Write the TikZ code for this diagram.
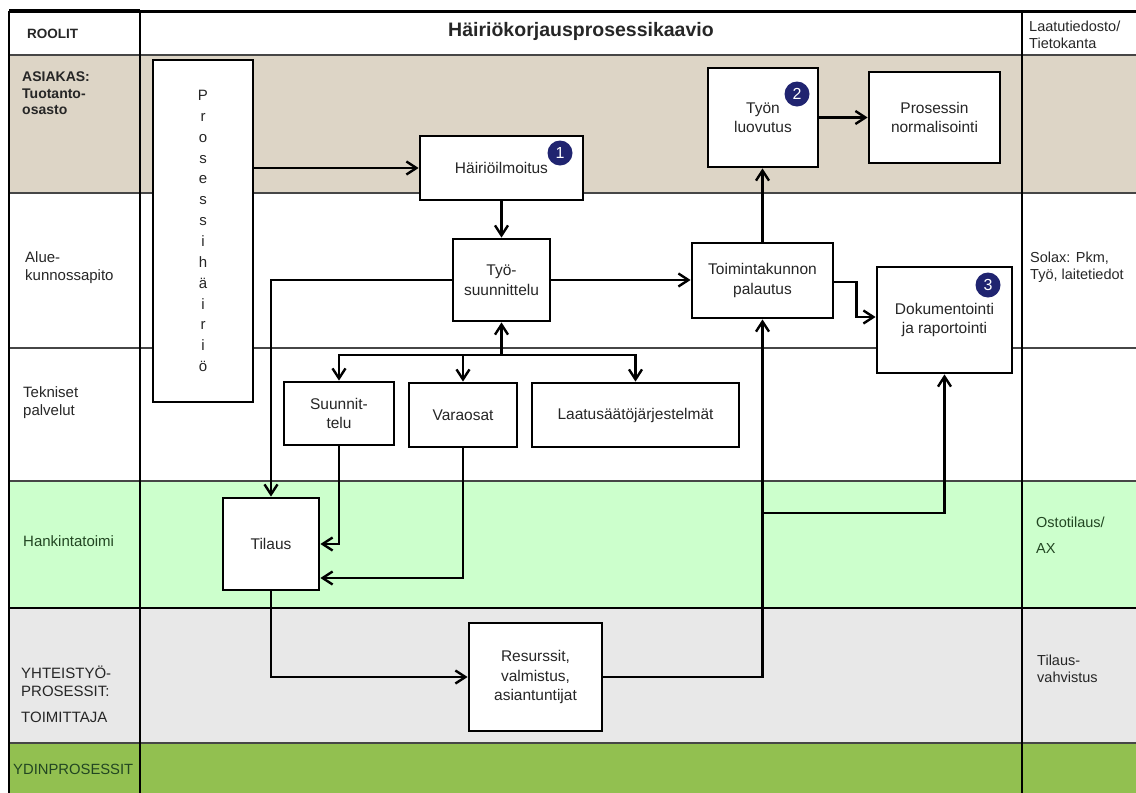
\documentclass[tikz,border=0pt]{standalone}
\usepackage{fontspec}
\setmainfont{Liberation Sans}
\usetikzlibrary{arrows.meta}
\definecolor{lanebeige}{RGB}{221,213,198}
\definecolor{lanegreen}{RGB}{204,255,204}
\definecolor{lanegray}{RGB}{232,232,232}
\definecolor{coregreen}{RGB}{146,192,80}
\definecolor{ink}{RGB}{38,38,38}
\definecolor{greenink}{RGB}{34,70,34}
\definecolor{rulegray}{RGB}{70,70,70}
\definecolor{badgeblue}{RGB}{32,36,112}
\newcommand\fsz[2]{\fontsize{#1}{#2}\selectfont}

\begin{document}
\begin{tikzpicture}[x=1pt,y=-1pt,
  procbox/.style={draw=black, line width=2.8pt, fill=white, inner sep=2pt,
    align=center, text=ink, font=\fsz{15.5}{19.5}},
  badge/.style={circle, fill=badgeblue, inner sep=0pt, minimum size=25pt,
    text=white, font=\fsz{16}{16}},
  arr/.style={line width=2.4pt, -{Straight Barb[length=10pt,width=13pt]}},
  lanelabel/.style={anchor=west, inner sep=0pt, align=left, text=ink,
    font=\fsz{15}{18}},
  sidelabel/.style={anchor=west, inner sep=0pt, align=left, text=ink,
    font=\fsz{14.5}{17}},
  laneline/.style={draw=rulegray, line width=1.5pt},
  frameline/.style={draw=black, line width=2.2pt}
]
\useasboundingbox (0,0) rectangle (1136,793);

% swim-lane backgrounds
\fill[lanebeige] (9,55) rectangle (1136,193);
\fill[lanegreen] (9,481) rectangle (1136,608);
\fill[lanegray]  (9,608) rectangle (1136,743);
\fill[coregreen] (9,743) rectangle (1136,793);

% lane separators
\draw[laneline] (9,55) -- (1136,55);
\draw[laneline] (9,193) -- (1136,193);
\draw[laneline] (9,348) -- (1136,348);
\draw[laneline] (9,481) -- (1136,481);
\draw[frameline] (9,608) -- (1136,608);
\draw[laneline, line width=2pt] (9,743) -- (1136,743);

% frame and columns
\draw[black, line width=4pt] (9,11) -- (140,11);
\draw[black, line width=3pt] (140,11) -- (1136,11);
\draw[frameline] (9,11) -- (9,793);
\draw[frameline] (140,11) -- (140,793);
\draw[frameline] (1022,11) -- (1022,793);

% header
\node[anchor=west, inner sep=0pt, text=ink, font=\fsz{13.5}{16}\bfseries] (roles) at (27,34) {ROOLIT};
\node[inner sep=0pt, text=ink, font=\fsz{19.5}{22}\bfseries] (title) at (581,31) {Häiriökorjausprosessikaavio};
\node[sidelabel] (dbhead) at (1029,34.5) {Laatutiedosto/\\Tietokanta};

% lane names
\node[lanelabel, font=\fsz{14}{16.5}\bfseries] (customer) at (22,93.5) {ASIAKAS:\\Tuotanto-\\osasto};
\node[lanelabel] (area) at (25,268) {Alue-\\kunnossapito};
\node[lanelabel] (tech) at (23,403) {Tekniset\\palvelut};
\node[lanelabel, text=greenink] (purchase) at (23,541) {Hankintatoimi};
\node[lanelabel] (coop) at (21,681.5) {YHTEISTYÖ-\\PROSESSIT:};
\node[lanelabel] (supplier) at (21,717) {TOIMITTAJA};
\node[lanelabel, text=greenink, font=\fsz{14.8}{18}] (core) at (13,769) {YDINPROSESSIT};

% data sources
\node[sidelabel] (solax) at (1030,267) {Solax: Pkm,\\Työ, laitetiedot};
\node[sidelabel, text=greenink, font=\fsz{14.5}{26}] (ax) at (1036,535) {Ostotilaus/\\AX};
\node[sidelabel] (confirm) at (1037,668.5) {Tilaus-\\vahvistus};

% process steps
\node[procbox, minimum width=100pt, minimum height=342pt, font=\fsz{15}{20.85}] (proc) at (203,231)
  {P\\r\\o\\s\\e\\s\\s\\i\\h\\ä\\i\\r\\i\\ö};
\node[procbox, minimum width=163pt, minimum height=64pt] (hair) at (501.5,168) {Häiriöilmoitus};
\node[procbox, minimum width=97pt, minimum height=82pt] (tyo) at (501.5,280) {Työ-\\suunnittelu};
\node[procbox, minimum width=141pt, minimum height=75pt] (toim) at (762.5,280.5) {Toimintakunnon\\palautus};
\node[procbox, minimum width=110pt, minimum height=99pt] (luov) at (763,117.5) {Työn\\luovutus};
\node[procbox, minimum width=131pt, minimum height=91pt] (norm) at (934.5,117.5) {Prosessin\\normalisointi};
\node[procbox, minimum width=135pt, minimum height=106pt] (dok) at (944.5,320) {Dokumentointi\\ja raportointi};
\node[procbox, minimum width=110pt, minimum height=63pt] (suun) at (339,413.5) {Suunnit-\\telu};
\node[procbox, minimum width=108pt, minimum height=64pt] (vara) at (463,415) {Varaosat};
\node[procbox, minimum width=207pt, minimum height=64pt] (laat) at (635.5,415) {Laatusäätöjärjestelmät};
\node[procbox, minimum width=96pt, minimum height=92pt] (til) at (271,544) {Tilaus};
\node[procbox, minimum width=133pt, minimum height=108pt] (res) at (535.5,677) {Resurssit,\\valmistus,\\asiantuntijat};

% step numbers
\node[badge] (b1) at (560,153) {1};
\node[badge] (b2) at (797,94) {2};
\node[badge] (b3) at (988,285) {3};

% connectors
\coordinate (split) at (501.5,355);
\coordinate (branch) at (762.5,513);

\draw[arr] (hair.west -| proc.east) -- (hair.west);
\draw[arr] (hair.south) -- (tyo.north);
\draw[arr] (tyo.east) -- (tyo.east -| toim.west);
\draw[arr] (tyo.west) -| (til.north);
\draw[arr] (split) -- (tyo.south);
\draw[arr] (split) -| (suun.north);
\draw[arr] (split) -| (vara.north);
\draw[arr] (split) -| (laat.north);
\draw[arr] (suun.south) |- (til.east);
\draw[arr] (vara.south) |- ([yshift=-34pt]til.east);
\draw[arr] (til.south) |- (res.west);
\draw[arr] (res.east) -| (toim.south);
\draw[arr] (branch) -| (dok.south);
\draw[arr] (toim.north) -- (toim.north |- luov.south);
\draw[arr] (luov.east) -- (norm.west);
\draw[arr] ([yshift=-1.5pt]toim.east) -- ++(22,0) |- ([yshift=3pt]dok.west);
\end{tikzpicture}
\end{document}
